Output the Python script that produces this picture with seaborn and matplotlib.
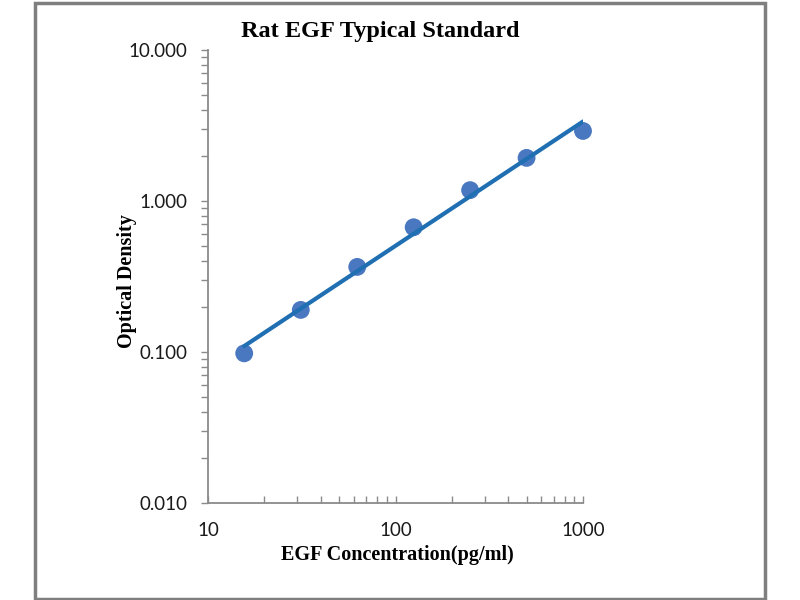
import numpy as np
import pandas as pd
import matplotlib
matplotlib.use("Agg")
import matplotlib.pyplot as plt
from matplotlib.ticker import LogLocator, NullFormatter, FuncFormatter
import seaborn as sns

conc = [15.6, 31.25, 62.5, 125, 250, 500, 1000]
od = [0.098, 0.19, 0.366, 0.67, 1.18, 1.93, 2.91]
title = "Rat EGF Typical Standard"
xlabel = "EGF Concentration(pg/ml)"
ylabel = "Optical Density"

df = pd.DataFrame({"conc": conc, "od": od})

# power trendline fitted to the data
b, a = np.polyfit(np.log10(df["conc"]), np.log10(df["od"]), 1)
fit = pd.DataFrame({"conc": df["conc"], "od": 10 ** (a + b * np.log10(df["conc"]))})

sns.set_style("ticks")
fig = plt.figure(figsize=(8, 6), dpi=100)
ax = fig.add_axes([208 / 800, 1 - 503 / 600, 375 / 800, 453 / 600])

sns.lineplot(data=fit, x="conc", y="od", ax=ax, color="#1f6fb2", lw=3, zorder=3)
sns.scatterplot(data=df, x="conc", y="od", ax=ax, color="#4a78c0", s=165,
                edgecolor="none", zorder=2, clip_on=False)

ax.set_xscale("log")
ax.set_yscale("log")
ax.set_xlim(10, 1000)
ax.set_ylim(0.01, 10)

gray = "#8a8a8a"
for s in ["top", "right"]:
    ax.spines[s].set_visible(False)
for s in ["left", "bottom"]:
    ax.spines[s].set_color(gray)
    ax.spines[s].set_linewidth(1.3)

ax.yaxis.set_major_locator(LogLocator(base=10, numticks=10))
ax.yaxis.set_minor_locator(LogLocator(base=10, subs=np.arange(2, 10), numticks=10))
ax.yaxis.set_major_formatter(FuncFormatter(lambda v, p: f"{v:.3f}"))
ax.yaxis.set_minor_formatter(NullFormatter())
ax.xaxis.set_major_locator(LogLocator(base=10, numticks=10))
ax.xaxis.set_minor_locator(LogLocator(base=10, subs=np.arange(2, 10), numticks=10))
ax.xaxis.set_major_formatter(FuncFormatter(lambda v, p: f"{v:.0f}"))
ax.xaxis.set_minor_formatter(NullFormatter())

ax.tick_params(axis="y", which="both", direction="out", length=5, width=1, color=gray,
               labelsize=13.5, labelcolor="#1a1a1a", pad=10)
ax.tick_params(axis="x", which="both", direction="in", length=5, width=1, color=gray,
               labelsize=13.5, labelcolor="#1a1a1a", pad=14)
for lab in ax.get_xticklabels() + ax.get_yticklabels():
    lab.set_family("Lato")

ax.set_xlabel(xlabel, fontsize=14.5, fontweight="bold", family="Liberation Serif", color="black")
ax.set_ylabel(ylabel, fontsize=14.5, fontweight="bold", family="Liberation Serif", color="black")
ax.xaxis.set_label_coords(0.504, -0.092)
ax.yaxis.set_label_coords(-0.19, 0.49)
fig.text(380 / 800, 1 - 32 / 600, title, ha="center", va="center", fontsize=17.5,
         fontweight="bold", family="Liberation Serif", color="black")

# outer border
fig.patches.append(plt.Rectangle((35 / 800, 1.5 / 600), 730 / 800, 596 / 600, transform=fig.transFigure,
                                 fill=False, edgecolor="#7f7f7f", lw=2.5))

fig.savefig("out.png", dpi=100)
